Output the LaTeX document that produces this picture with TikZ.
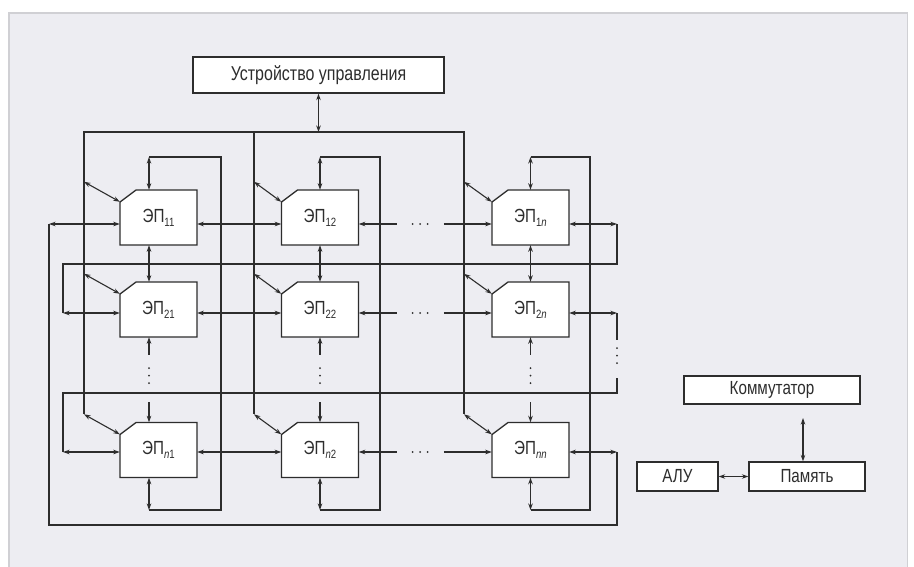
\documentclass[tikz,border=0pt]{standalone}
\usepackage{fontspec}
\setmainfont{Liberation Sans}[FakeStretch=0.8]
\usetikzlibrary{arrows.meta,calc}
\definecolor{panelbg}{RGB}{237,237,242}
\definecolor{panelrule}{RGB}{208,208,212}
\definecolor{linecol}{RGB}{45,45,45}
\newcommand{\pesub}[1]{\raisebox{-4pt}{\fontsize{12}{12}\selectfont#1}}
\newcommand{\pecell}[3]{%
  \path[pebody,shift={(#2)}] (-22.5,-27.5) -- (38.5,-27.5) -- (38.5,27.5)
    -- (-38.5,27.5) -- (-38.5,-15.5) -- cycle;
  \node[pe] (#1) at (#2) {#3};}

\begin{document}
\begin{tikzpicture}[x=1pt,y=-1pt,>={Stealth[length=6.5pt,width=4.5pt]},
  color=linecol,
  box/.style={draw=linecol,fill=white,line width=1.3pt,inner sep=0pt,font=\fontsize{19}{22}\selectfont},
  pe/.style={inner sep=0pt,minimum width=77pt,minimum height=55pt,font=\fontsize{19}{22}\selectfont},
  pebody/.style={draw=linecol,fill=white,line width=1.3pt},
  wire/.style={draw=linecol,line width=1.1pt},
  dbl/.style={wire,<->},
  dotline/.style={draw=linecol,line width=2pt,line cap=round,dash pattern=on 0pt off 7.5pt}]
  \useasboundingbox (0,0) rectangle (914,566);
  \path[fill=panelbg,draw=panelrule,line width=1.5pt] (8.75,12.75) rectangle (907.25,580);

  % control unit and its bus
  \node[box,minimum width=251pt,minimum height=36pt,font=\fontsize{20}{24}\selectfont] (cu) at (318.5,75) {Устройство управления};
  \coordinate (b1) at (84,132);
  \coordinate (b2) at (254,132);
  \coordinate (bn) at (464,132);
  \draw[dbl] (cu.south) -- (cu.south |- b1);
  \draw[wire] (b1) ++(0,282) -- (b1) -- (bn) -- ++(0,282);
  \draw[wire] (b2) -- ++(0,282);

  % processing elements
  \pecell{p1-1}{158.5,217.5}{ЭП\pesub{11}}
  \pecell{p1-2}{320,217.5}{ЭП\pesub{12}}
  \pecell{p1-n}{530.5,217.5}{ЭП\pesub{1\textit{n}}}
  \pecell{p2-1}{158.5,309.5}{ЭП\pesub{21}}
  \pecell{p2-2}{320,309.5}{ЭП\pesub{22}}
  \pecell{p2-n}{530.5,309.5}{ЭП\pesub{2\textit{n}}}
  \pecell{pn-1}{158.5,450}{ЭП\pesub{\textit{n}1}}
  \pecell{pn-2}{320,450}{ЭП\pesub{\textit{n}2}}
  \pecell{pn-n}{530.5,450}{ЭП\pesub{\textit{nn}}}

  % bus taps
  \foreach \r in {1,2,n}
    \foreach \c in {1,2,n}
      \draw[dbl] let \p1=(p\r-\c.north west), \p2=(b\c) in (\x2,\y1+8pt) -- (\x1,\y1-12pt);

  % columns
  \foreach \c/\vx/\rx in {1/149/221,2/320/380,n/530.5/590} {
    \coordinate (lt) at (\vx,157);
    \coordinate (rt) at (\rx,157);
    \coordinate (rb) at (\rx,510);
    \coordinate (lb) at (\vx,510);
    \draw[dbl] (lt |- p1-\c.north) -- (lt);
    \draw[wire] (lt) -- (rt) -- (rb) -- (lb);
    \draw[dbl] (lb) -- (lb |- pn-\c.south);
    \draw[dbl] (lt |- p1-\c.south) -- (lt |- p2-\c.north);
    \draw[wire,<-] (lt |- p2-\c.south) -- ++(0,18);
    \draw[dotline] (lt |- p2-\c.south) ++(0,31) -- ++(0,16);
    \draw[wire,->] (lt |- pn-\c.north) ++(0,-20) -- (lt |- pn-\c.north);
  }

  % rows
  \coordinate (h1) at (0,224);
  \coordinate (h2) at (0,313);
  \coordinate (hn) at (0,452);
  \foreach \r in {1,2,n} {
    \draw[dbl] (h\r -| p\r-1.east) -- (h\r -| p\r-2.west);
    \draw[wire,<-] (h\r -| p\r-2.east) -- ++(38,0) coordinate (hd);
    \draw[dotline] (hd) ++(16,0) -- ++(16,0);
    \draw[wire,->] (h\r -| p\r-n.west) ++(-48,0) -- (h\r -| p\r-n.west);
  }

  % wrap-around links
  \coordinate (wa) at (49,224);
  \coordinate (wb) at (49,525);
  \coordinate (wc) at (617,525);
  \coordinate (wd) at (617,452);
  \draw[dbl] (wa -| p1-1.west) -- (wa);
  \draw[wire] (wa) -- (wb) -- (wc) -- (wd);
  \draw[dbl] (wd) -- (wd -| pn-n.east);
  \coordinate (xa) at (63,313);
  \coordinate (xb) at (63,264);
  \coordinate (xc) at (617,264);
  \coordinate (xd) at (617,224);
  \draw[dbl] (xa -| p2-1.west) -- (xa);
  \draw[wire] (xa) -- (xb) -- (xc) -- (xd);
  \draw[dbl] (xd) -- (xd -| p1-n.east);
  \coordinate (ya) at (63,452);
  \coordinate (yb) at (63,393);
  \coordinate (yc) at (617,393);
  \coordinate (yd) at (617,378);
  \coordinate (ye) at (617,313);
  \draw[dbl] (ya -| pn-1.west) -- (ya);
  \draw[wire] (ya) -- (yb) -- (yc) -- (yd);
  \draw[dbl] (ye -| p2-n.east) -- (ye);
  \draw[wire] (ye) -- ++(0,27);
  \draw[dotline] (ye) ++(0,35) -- ++(0,16);

  % switch, memory, ALU
  \node[box,minimum width=176pt,minimum height=28pt] (sw) at (772,390) {Коммутатор};
  \node[box,minimum width=116pt,minimum height=29pt] (mem) at (807,476.5) {Память};
  \node[box,minimum width=81pt,minimum height=29pt] (alu) at (677.5,476.5) {АЛУ};
  \draw[dbl] (alu) -- (mem);
  \coordinate (sl) at (803,418);
  \draw[dbl] (sl) -- (sl |- mem.north);
\end{tikzpicture}
\end{document}
